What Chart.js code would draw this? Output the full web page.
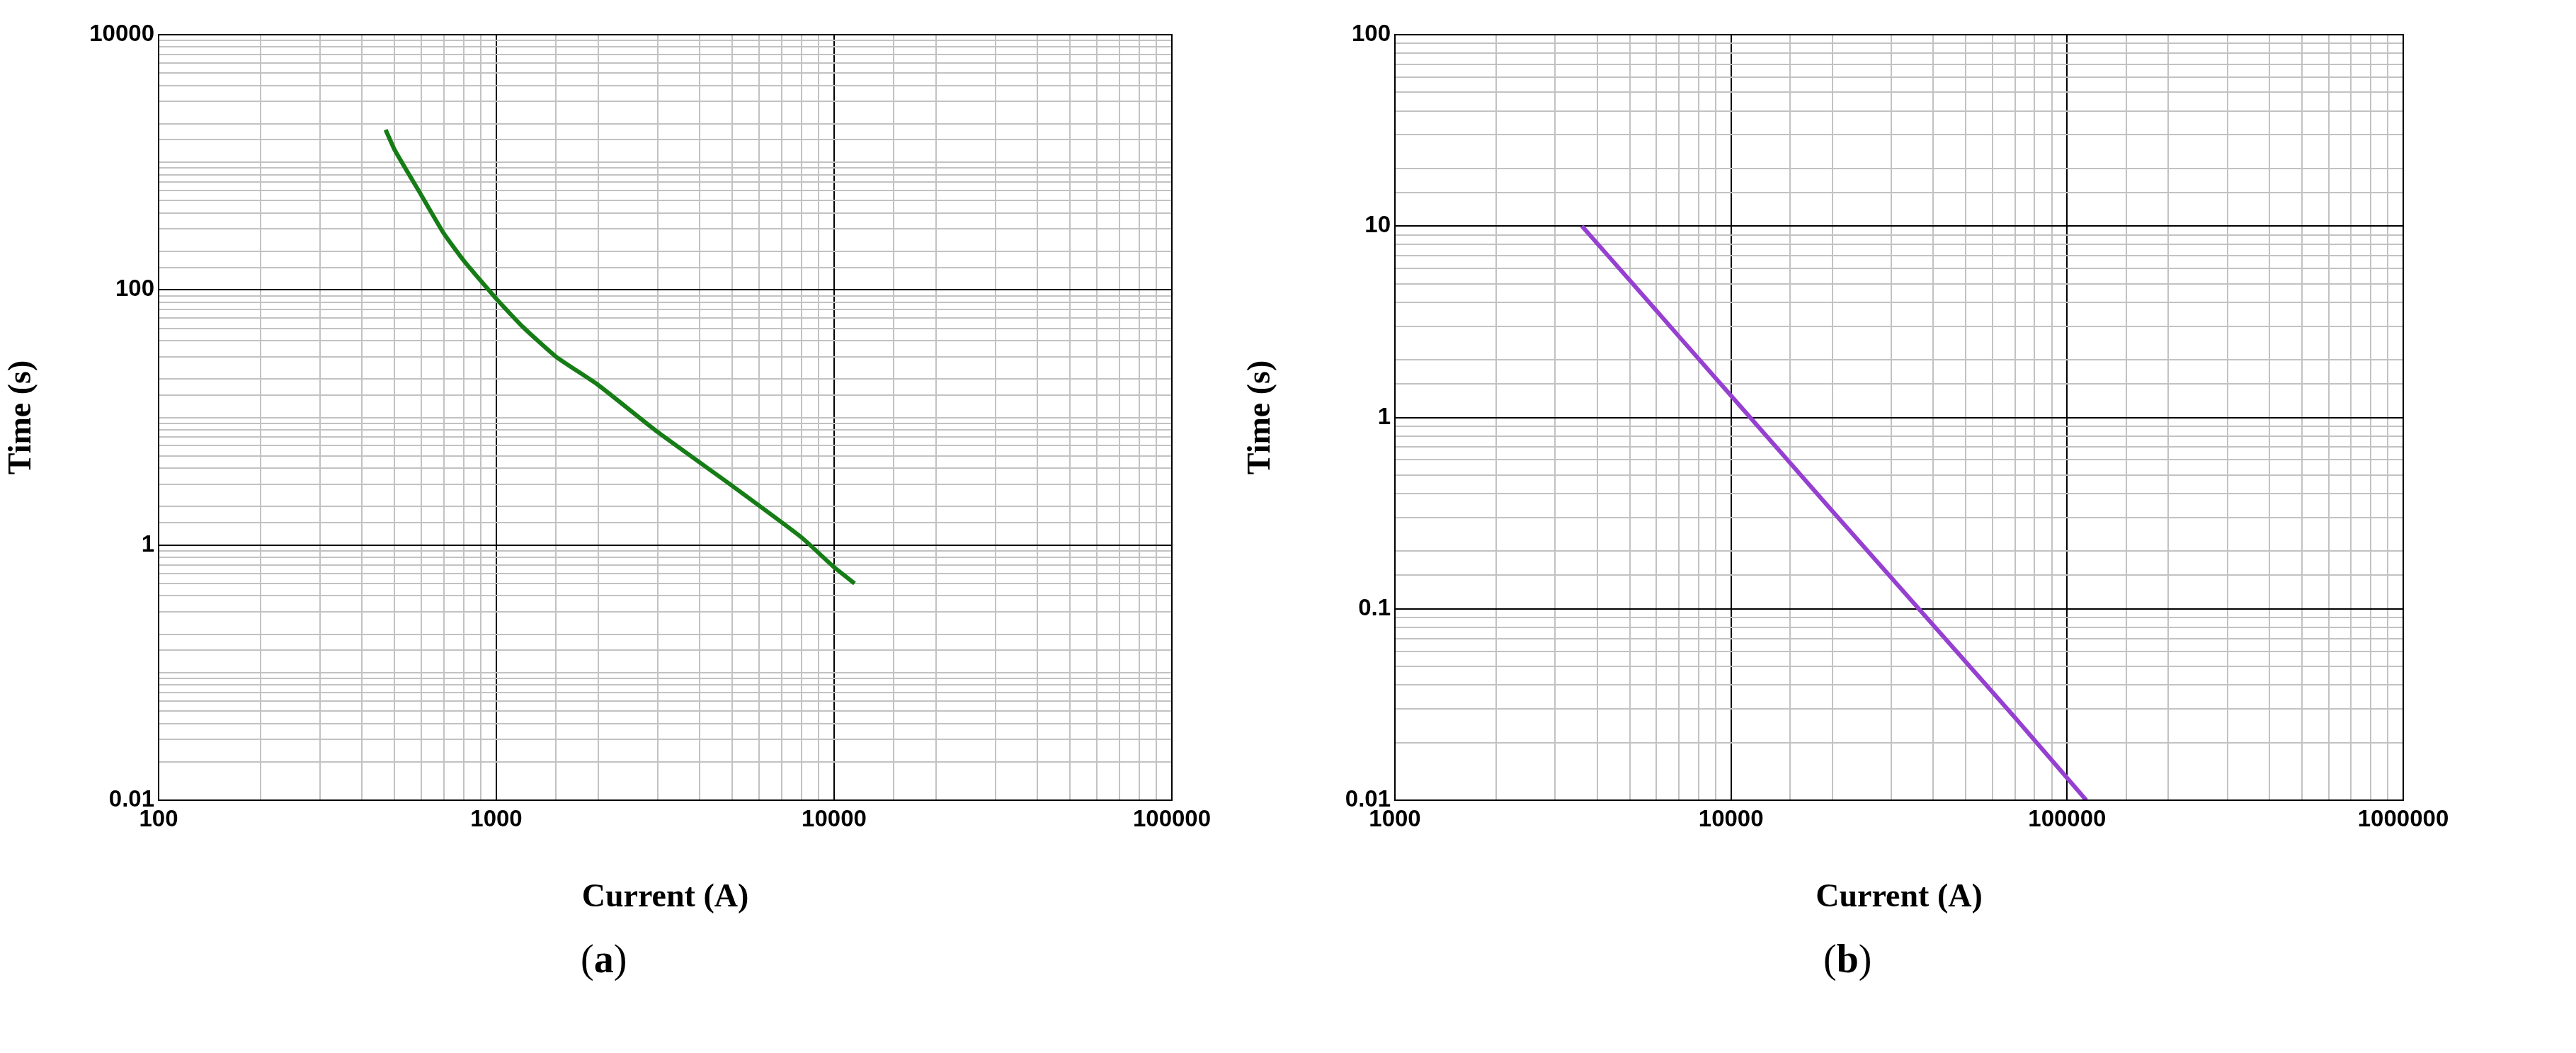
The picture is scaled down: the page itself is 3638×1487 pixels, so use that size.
<!DOCTYPE html>
<html>
<head>
<meta charset="utf-8">
<script src="https://cdn.jsdelivr.net/npm/chart.js@4"></script>
<style>
  body { margin: 0; background: #fff; width: 3638px; height: 1487px; position: relative; overflow: hidden; }
  .box { position: absolute; top: 0; width: 1720px; height: 1300px; }
  .cap { position: absolute; top: 1322px; font: 56px "Liberation Serif", serif; }
</style>
</head>
<body>
<div class="box" style="left:0px"><canvas id="chartA"></canvas></div>
<div class="box" style="left:1750px"><canvas id="chartB"></canvas></div>
<div class="cap" style="left:820px">(<b>a</b>)</div>
<div class="cap" style="left:2575px">(<b>b</b>)</div>
<script>
// curve (a)
var currentA = [470, 500, 600, 700, 800, 1000, 1200, 1500, 2000, 3000, 5000, 8000, 10000, 11500];
var timeA = [1800, 1250, 550, 275, 170, 85, 51, 30, 18, 7.7, 2.9, 1.15, 0.67, 0.5];
// curve (b)
var currentB = [3600, 5000, 7000, 10000, 20000, 40000, 70000, 114000];
var timeB = [10, 5.2, 2.65, 1.3, 0.325, 0.082, 0.027, 0.01];

var xRangeA = [100, 100000], yRangeA = [0.01, 10000];
var xRangeB = [1000, 1000000], yRangeB = [0.01, 100];

// step = how many decades between labelled / black lines
function isMajor(v, step) {
  var l = Math.log10(v);
  var r = Math.round(l);
  return Math.abs(l - r) < 1e-6 && ((r % step) + step) % step === 0;
}

function makeChart(id, xs, ys, color, xr, yr, yStep, yWidth, rightPad) {
  var pts = xs.map(function (x, i) { return { x: x, y: ys[i] }; });
  function grid(step) {
    return {
      color: function (c) { return c.tick && isMajor(c.tick.value, step) ? "#000" : "#c2c2c2"; },
      lineWidth: 2,
      drawTicks: false
    };
  }
  var tickFont = { family: "Liberation Sans", weight: "bold", size: 33 };
  var titleFont = { family: "Liberation Serif", weight: "bold", size: 46 };
  return new Chart(document.getElementById(id), {
    type: "scatter",
    data: {
      datasets: [{
        data: pts,
        showLine: true,
        borderColor: color,
        borderWidth: 6,
        pointRadius: 0,
        tension: 0.15
      }]
    },
    options: {
      responsive: false,
      animation: false,
      devicePixelRatio: 1,
      layout: { padding: { top: 49, right: rightPad, left: 0, bottom: 0 } },
      plugins: { legend: { display: false }, tooltip: { enabled: false } },
      scales: {
        x: {
          type: "logarithmic", min: xr[0], max: xr[1],
          grid: grid(1),
          border: { color: "#000", width: 2 },
          ticks: {
            autoSkip: false, maxRotation: 0, color: "#000", font: tickFont, padding: 8,
            callback: function (v) { return isMajor(v, 1) ? String(v) : ""; }
          },
          title: { display: true, text: "Current (A)", color: "#000", font: titleFont, padding: { top: 40 } },
          afterFit: function (s) { s.height = 170; }
        },
        y: {
          type: "logarithmic", min: yr[0], max: yr[1],
          grid: grid(yStep),
          border: { color: "#000", width: 2 },
          ticks: {
            autoSkip: false, color: "#000", font: tickFont, padding: 6,
            callback: function (v) { return isMajor(v, yStep) ? String(v) : ""; }
          },
          title: { display: true, text: "Time (s)", color: "#000", font: titleFont, padding: { bottom: 30 } },
          afterFit: function (s) { s.width = yWidth; }
        }
      }
    },
    plugins: [{
      id: "frame",
      afterDraw: function (ch) {
        var a = ch.chartArea, g = ch.ctx;
        g.save(); g.strokeStyle = "#000"; g.lineWidth = 2;
        g.strokeRect(a.left, a.top, a.right - a.left, a.bottom - a.top);
        g.restore();
      }
    }]
  });
}

var cA = document.getElementById("chartA"), cB = document.getElementById("chartB");
cA.width = 1720; cA.height = 1300; cB.width = 1720; cB.height = 1300;
makeChart("chartA", currentA, timeA, "rgb(22,125,22)", xRangeA, yRangeA, 2, 224, 65);
makeChart("chartB", currentB, timeB, "rgb(150,64,210)", xRangeB, yRangeB, 1, 220, 76);
</script>
</body>
</html>
